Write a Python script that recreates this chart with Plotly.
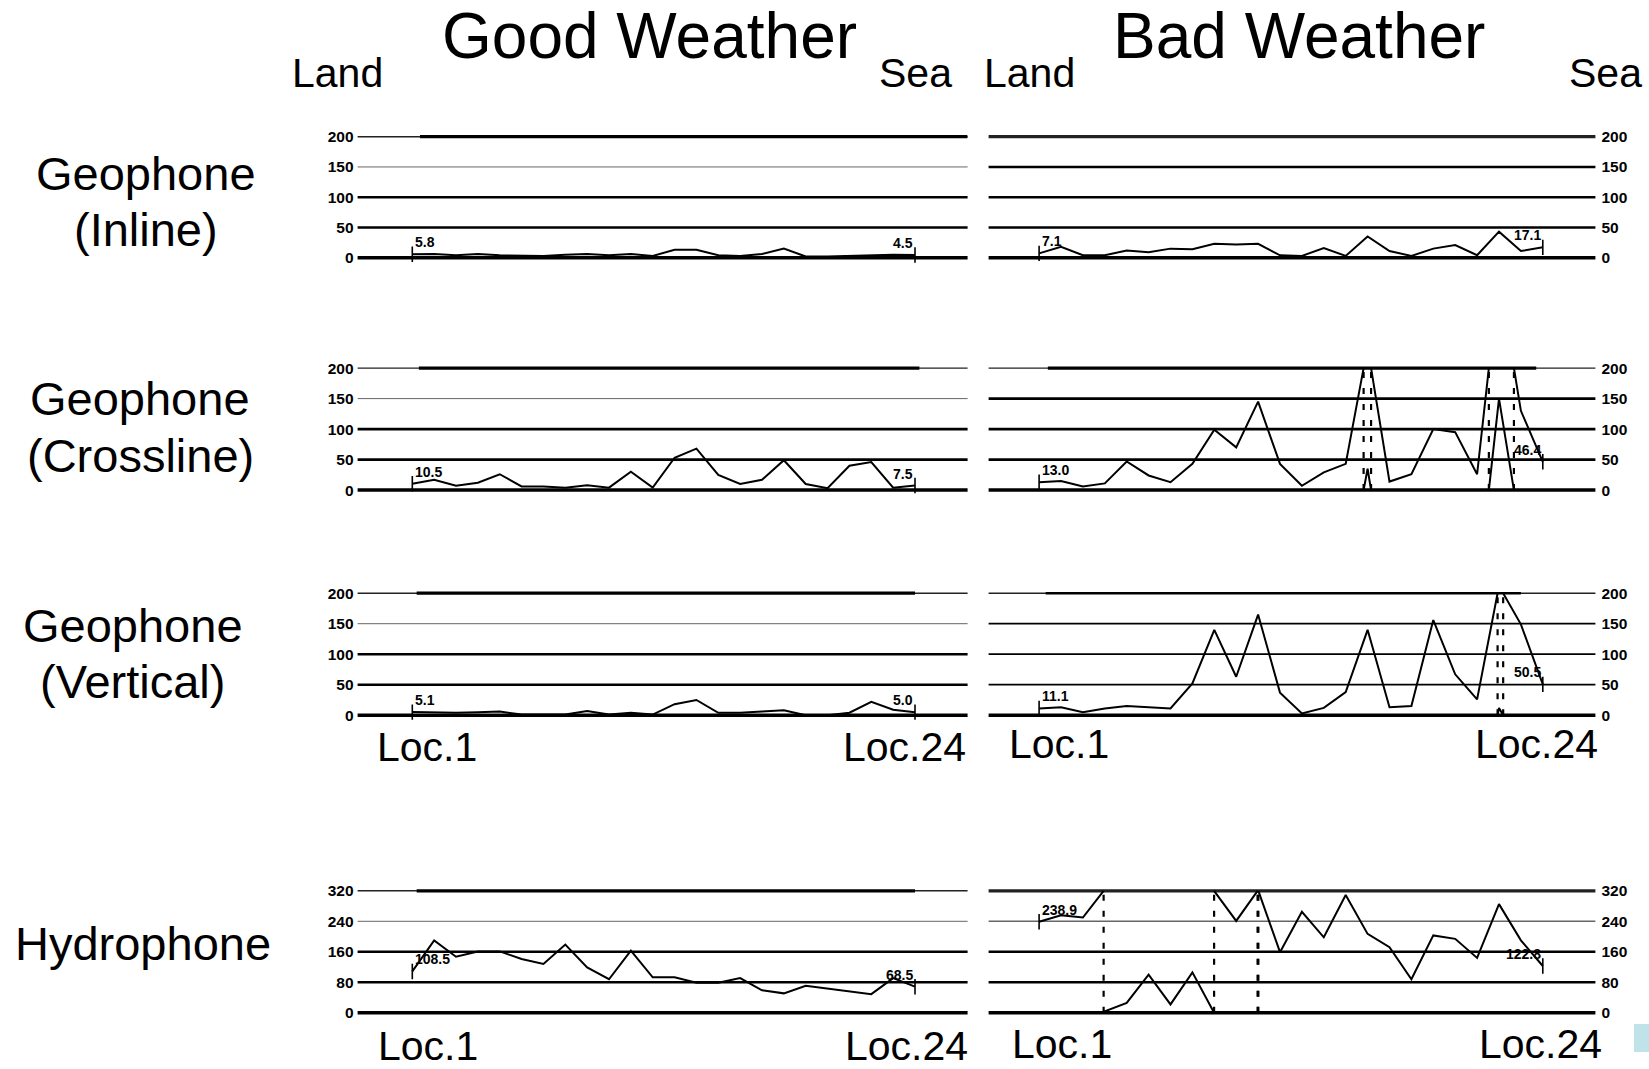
import math
import plotly.graph_objects as go

# ---------------------------------------------------------------- data
locations = list(range(1, 25))

geo_ticks = [0, 50, 100, 150, 200]
hydro_ticks = [0, 80, 160, 240, 320]

good_inline = [5.8, 6, 4, 6, 4, 3, 3, 5, 6, 4, 6, 3, 13, 13, 4, 3, 6, 15, 2, 2, 3, 5, 5, 4.5]
bad_inline = [7.1, 18, 4, 4, 12, 9, 15, 14, 23, 22, 23, 4, 3, 16, 3, 35, 11, 3, 15, 21, 4, 43, 11, 17.1]

good_crossline = [10.5, 17, 7, 12, 26, 6, 6, 4, 8, 4, 30, 4, 53, 68, 25, 10, 17, 49, 10, 3, 40, 46, 4, 7.5]
bad_crossline = [13.0, 15, 6, 11, 47, 24, 13, 43, 99, 70, 145, 43, 7, 29, 43, 235, 14, 26, 100, 95, 26, 350, 130, 46.4]

good_vertical = [5.1, 4, 4, 5, 6, 1, 1, 1, 7, 1, 4, 1, 18, 25, 4, 4, 6, 8, 0, 0, 4, 22, 9, 5.0]
bad_vertical = [11.1, 13, 5, 11, 15, 13, 11, 52, 140, 63, 165, 37, 3, 12, 38, 140, 13, 15, 156, 67, 26, 212, 149, 50.5]

good_hydrophone = [108.5, 190, 147, 161, 161, 141, 128, 179, 119, 88, 163, 93, 93, 79, 79, 91, 59, 51, 71, 64, 56, 49, 91, 68.5]
bad_hydrophone = [238.9, 256, 250, 324, 346, 420, 342, 426, 319, 241, 322, 159, 265, 198, 309, 207, 172, 88, 203, 194, 144, 285, 190, 122.8]

# ---------------------------------------------------------------- layout geometry (pixels)
W, H = 1649, 1069
# (pixel y of top gridline, pixel y of zero line) for each row
ROWS = [(136.7, 257.7), (368.1, 490.1), (593.2, 715.2), (890.8, 1012.8)]
# (axis left px, axis right px, px of first location, px of last location)
COLS = {"L": (357.6, 967.6, 412.3, 915.0), "R": (988.6, 1595.4, 1039.1, 1542.8)}
PAD = 14

NARROW = "Liberation Sans Narrow, Liberation Sans, Arial, sans-serif"
SANS = "Liberation Sans, Arial, Helvetica, sans-serif"

panels = [
    dict(row=0, col="L", vals=good_inline, ticks=geo_ticks,
         widths=[3.5, 2.6, 2.6, 1.0], topseg=(1.35, None), topw=3.2),
    dict(row=0, col="R", vals=bad_inline, ticks=geo_ticks,
         widths=[3.5, 2.6, 2.6, 2.6], topseg=None, topw=3.2),
    dict(row=1, col="L", vals=good_crossline, ticks=geo_ticks,
         widths=[3.5, 2.6, 2.6, 1.0], topseg=(1.3, 24.2), topw=3.2),
    dict(row=1, col="R", vals=bad_crossline, ticks=geo_ticks,
         widths=[3.5, 2.6, 2.6, 2.6], topseg=(1.4, 23.7), topw=3.2),
    dict(row=2, col="L", vals=good_vertical, ticks=geo_ticks,
         widths=[3.5, 2.6, 2.6, 1.0], topseg=(1.2, 24.0), topw=3.2),
    dict(row=2, col="R", vals=bad_vertical, ticks=geo_ticks,
         widths=[3.5, 1.8, 1.8, 1.8], topseg=(1.3, 23.0), topw=2.4),
    dict(row=3, col="L", vals=good_hydrophone, ticks=hydro_ticks,
         widths=[3.5, 2.6, 2.6, 1.0], topseg=(1.2, 24.0), topw=3.2),
    dict(row=3, col="R", vals=bad_hydrophone, ticks=hydro_ticks,
         widths=[3.5, 2.6, 2.6, 1.5], topseg=None, topw=3.2),
]


def band(v, top):
    return int(math.floor(v / top))


def wrapped(xs, vs, top):
    """Off-scale values wrap around the full scale; each wrap is marked
    by a dotted vertical line at the crossing point."""
    sx, sy, dx, dy = [xs[0]], [vs[0] - band(vs[0], top) * top], [], []
    for i in range(1, len(xs)):
        x0, v0, x1, v1 = xs[i - 1], vs[i - 1], xs[i], vs[i]
        b0, b1 = band(v0, top), band(v1, top)
        b = b0
        while b != b1:
            up = b1 > b
            edge = (b + 1) * top if up else b * top
            t = (edge - v0) / (v1 - v0)
            xc = x0 + t * (x1 - x0)
            if up:
                sx += [xc, None, xc]
                sy += [top, None, 0]
            else:
                sx += [xc, None, xc]
                sy += [0, None, top]
            dx += [xc, xc, None]
            dy += [0, top, None]
            b += 1 if up else -1
        sx.append(x1)
        sy.append(v1 - b1 * top)
    return sx, sy, dx, dy


fig = go.Figure()
shapes, annotations = [], []

for n, p in enumerate(panels, start=1):
    ax = "" if n == 1 else str(n)
    xname, yname = f"x{ax}", f"y{ax}"
    top = p["ticks"][-1]
    py_top, py_zero = ROWS[p["row"]]
    px_l, px_r, px_first, px_last = COLS[p["col"]]

    # axis ranges from pixel anchors
    xs_per_px = (len(locations) - 1) / (px_last - px_first)
    x_lo = 1 - (px_first - px_l) * xs_per_px
    x_hi = len(locations) + (px_r - px_last) * xs_per_px
    ys_per_px = top / (py_zero - py_top)
    y_lo = -PAD * ys_per_px
    y_hi = top + PAD * ys_per_px

    fig.update_layout(**{
        f"xaxis{ax}": dict(domain=[px_l / W, px_r / W], range=[x_lo, x_hi],
                           anchor=yname, visible=False, fixedrange=True),
        f"yaxis{ax}": dict(domain=[1 - (py_zero + PAD) / H, 1 - (py_top - PAD) / H],
                           range=[y_lo, y_hi], anchor=xname,
                           side="left" if p["col"] == "L" else "right",
                           tickvals=p["ticks"], ticktext=[str(t) for t in p["ticks"]],
                           ticks="", ticklabelstandoff=3 if p["col"] == "L" else 5,
                           showgrid=False, zeroline=False, showline=False,
                           tickfont=dict(family=NARROW, size=15.5, color="black", weight="bold"),
                           fixedrange=True),
    })

    # horizontal reference lines
    for lvl, w in zip(p["ticks"][:-1], p["widths"]):
        shapes.append(dict(type="line", xref=f"{xname} domain", x0=0, x1=1,
                           yref=yname, y0=lvl, y1=lvl, layer="below",
                           line=dict(color="black" if w > 1.5 else "#666", width=w)))
    shapes.append(dict(type="line", xref=f"{xname} domain", x0=0, x1=1,
                       yref=yname, y0=top, y1=top, layer="below",
                       line=dict(color="#222", width=1.4 if p["topseg"] else p["topw"])))
    if p["topseg"]:
        a, b = p["topseg"]
        shapes.append(dict(type="line", xref=xname, x0=a, x1=x_hi if b is None else b,
                           yref=yname, y0=top, y1=top, layer="below",
                           line=dict(color="black", width=p["topw"])))

    sx, sy, dx, dy = wrapped(locations, p["vals"], top)
    fig.add_trace(go.Scatter(x=sx, y=sy, xaxis=xname, yaxis=yname, mode="lines",
                             line=dict(color="black", width=2), connectgaps=False,
                             showlegend=False, hoverinfo="skip"))
    if dx:
        fig.add_trace(go.Scatter(x=dx, y=dy, xaxis=xname, yaxis=yname, mode="lines",
                                 line=dict(color="black", width=2.2, dash="6px,10px"),
                                 connectgaps=False, showlegend=False, hoverinfo="skip"))

    # end markers and the values at the first and last locations
    ends_x = [locations[0], locations[-1]]
    ends_v = [p["vals"][0], p["vals"][-1]]
    ends_y = [v - band(v, top) * top for v in ends_v]
    fig.add_trace(go.Scatter(x=ends_x, y=ends_y, xaxis=xname, yaxis=yname, mode="markers",
                             marker=dict(symbol="line-ns", size=11,
                                         line=dict(color="black", width=1.6)),
                             showlegend=False, hoverinfo="skip"))
    for xv, yv, v, anchor, xs in zip(ends_x, ends_y, ends_v, ["left", "right"], [1, 0]):
        annotations.append(dict(x=xv, y=yv, xref=xname, yref=yname, text=f"{v:.1f}",
                                showarrow=False, xanchor=anchor, yanchor="middle",
                                xshift=xs, yshift=12,
                                font=dict(family=NARROW, size=14, color="black", weight="bold")))


def text(label, x, y, size):
    annotations.append(dict(text=label, x=x / W, y=1 - y / H, xref="paper", yref="paper",
                            showarrow=False, xanchor="center", yanchor="middle",
                            font=dict(family=SANS, size=size, color="black")))


text("Good Weather", 649, 36, 64)
text("Bad Weather", 1299, 36, 64)
text("Land", 337, 73, 41)
text("Sea", 915, 73, 41)
text("Land", 1029, 73, 41)
text("Sea", 1605, 73, 41)

text("Geophone", 146, 173.5, 47)
text("(Inline)", 146, 229.8, 47)
text("Geophone", 140, 398.6, 47)
text("(Crossline)", 140, 455.4, 47)
text("Geophone", 132.5, 625.8, 47)
text("(Vertical)", 132.5, 681.5, 47)
text("Hydrophone", 143, 943.4, 47)

text("Loc.1", 426.5, 747.2, 41)
text("Loc.24", 904.5, 747.2, 41)
text("Loc.1", 1059, 743.6, 41)
text("Loc.24", 1536.6, 743.6, 41)
text("Loc.1", 428, 1046, 41)
text("Loc.24", 906, 1046, 41)
text("Loc.1", 1061.7, 1044, 41)
text("Loc.24", 1540, 1044, 41)

# small navigation button in the lower right corner
shapes.append(dict(type="rect", xref="paper", yref="paper",
                   x0=1634 / W, x1=1.0, y0=1 - 1052 / H, y1=1 - 1024 / H,
                   fillcolor="#bfe3e8", line=dict(width=0)))

fig.update_layout(width=W, height=H, margin=dict(l=0, r=0, t=0, b=0),
                  paper_bgcolor="white", plot_bgcolor="rgba(0,0,0,0)",
                  shapes=shapes, annotations=annotations, showlegend=False)

fig.write_html("out.html", config={"displayModeBar": False})
